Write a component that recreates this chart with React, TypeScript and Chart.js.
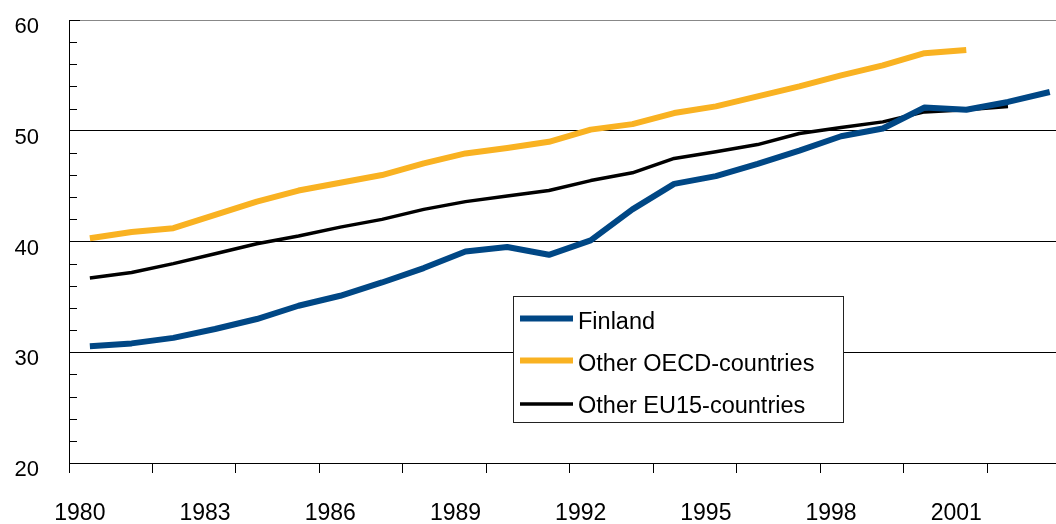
import React, { useEffect, useRef } from "react";
import { Chart, registerables } from "chart.js";

Chart.register(...registerables);

const years = [1980, 1981, 1982, 1983, 1984, 1985, 1986, 1987, 1988, 1989, 1990, 1991, 1992, 1993, 1994, 1995, 1996, 1997, 1998, 1999, 2000, 2001, 2002, 2003];
const finland = [30.55, 30.8, 31.3, 32.1, 33.0, 34.2, 35.1, 36.3, 37.6, 39.1, 39.5, 38.8, 40.1, 42.9, 45.2, 45.9, 47.0, 48.2, 49.5, 50.2, 52.1, 51.9, 52.6, 53.5];
const otherOECD = [40.3, 40.85, 41.2, 42.4, 43.6, 44.6, 45.3, 46.0, 47.05, 47.95, 48.45, 49.0, 50.1, 50.6, 51.6, 52.2, 53.1, 54.0, 55.0, 55.9, 57.0, 57.3];
const otherEU15 = [36.7, 37.2, 38.0, 38.9, 39.8, 40.5, 41.3, 42.0, 42.9, 43.6, 44.1, 44.6, 45.5, 46.2, 47.5, 48.1, 48.75, 49.75, 50.3, 50.8, 51.7, 51.9, 52.2];
const xTickLabels = [1980, 1983, 1986, 1989, 1992, 1995, 1998, 2001];
const xTickMarks = [1979.5, 1981.5, 1983.5, 1985.5, 1987.5, 1989.5, 1991.5, 1993.5, 1995.5, 1997.5, 1999.5, 2001.5];
const yTicks = [20, 30, 40, 50, 60];

const FONT = "'Liberation Sans', Arial, sans-serif";

const toPoints = (vals: number[]) => vals.map((v, i) => ({ x: years[i], y: v }));

const legendPlugin = {
  id: "boxLegend",
  afterDatasetsDraw(chart: any) {
    const ctx = chart.ctx;
    const bx = 513.5, by = 296.5, bw = 330, bh = 126;
    ctx.save();
    ctx.fillStyle = "#fff";
    ctx.fillRect(bx, by, bw, bh);
    ctx.strokeStyle = "#222";
    ctx.lineWidth = 1;
    ctx.strokeRect(bx, by, bw, bh);
    const baselines = [328.5, 371, 413];
    const lineYs = [318.5, 360.5, 404];
    chart.data.datasets.forEach((ds: any, i: number) => {
      const ly = lineYs[i];
      ctx.beginPath();
      ctx.strokeStyle = ds.borderColor;
      ctx.lineWidth = ds.borderWidth;
      ctx.lineCap = "butt";
      ctx.moveTo(520, ly);
      ctx.lineTo(573, ly);
      ctx.stroke();
      ctx.fillStyle = "#000";
      ctx.font = "23.5px " + FONT;
      ctx.textBaseline = "alphabetic";
      ctx.textAlign = "left";
      ctx.fillText(ds.label, 578, baselines[i]);
    });
    ctx.restore();
  },
};

const minorTicksPlugin = {
  id: "minorTicks",
  afterDraw(chart: any) {
    const ctx = chart.ctx;
    const y = chart.scales.y;
    const left = chart.chartArea.left;
    ctx.save();
    ctx.strokeStyle = "#000";
    ctx.lineWidth = 1;
    for (let v = 22; v < 60; v += 2) {
      if (v % 10 === 0) continue;
      const py = Math.round(y.getPixelForValue(v)) + 0.5;
      ctx.beginPath();
      ctx.moveTo(left, py);
      ctx.lineTo(left + 8, py);
      ctx.stroke();
    }
    const py60 = Math.round(y.getPixelForValue(60)) + 0.5;
    ctx.beginPath();
    ctx.moveTo(left, py60);
    ctx.lineTo(left + 11, py60);
    ctx.stroke();
    ctx.restore();
  },
};

export default function App() {
  const ref = useRef<HTMLCanvasElement>(null);
  useEffect(() => {
    document.body.style.margin = "0";
    const chart = new Chart(ref.current!, {
      type: "line",
      data: {
        datasets: [
          { label: "Finland", data: toPoints(finland), borderColor: "#004785", borderWidth: 6, pointRadius: 0, tension: 0, borderJoinStyle: "round" },
          { label: "Other OECD-countries", data: toPoints(otherOECD), borderColor: "#F9B222", borderWidth: 6, pointRadius: 0, tension: 0, borderJoinStyle: "round" },
          { label: "Other EU15-countries", data: toPoints(otherEU15), borderColor: "#000000", borderWidth: 3.5, pointRadius: 0, tension: 0, borderJoinStyle: "round" },
        ],
      },
      options: {
        animation: false,
        responsive: false,
        maintainAspectRatio: false,
        layout: { padding: { top: 20, right: 0, left: 0, bottom: 0 } },
        plugins: { legend: { display: false }, tooltip: { enabled: false } },
        scales: {
          x: {
            type: "linear",
            min: 1979.5,
            max: 2003.15,
            afterBuildTicks: (scale: any) => {
              const vals = [...xTickMarks, ...xTickLabels].sort((a, b) => a - b);
              scale.ticks = vals.map((v) => ({ value: v }));
            },
            afterFit: (scale: any) => {
              scale.height = 61;
              scale.paddingLeft = 0;
              scale.paddingRight = 0;
            },
            ticks: {
              autoSkip: false,
              maxRotation: 0,
              minRotation: 0,
              labelOffset: -10,
              padding: 27,
              color: "#000",
              font: { family: FONT, size: 23 },
              callback: (v: any) => (xTickLabels.includes(Number(v)) ? String(v) : ""),
            },
            grid: {
              drawOnChartArea: false,
              drawTicks: true,
              tickLength: 10,
              color: (c: any) => (c.tick && xTickMarks.includes(c.tick.value) ? "#000" : "rgba(0,0,0,0)"),
            },
            border: { color: "#000", width: 1 },
          },
          y: {
            type: "linear",
            min: 20,
            max: 60,
            afterBuildTicks: (scale: any) => {
              scale.ticks = yTicks.map((v) => ({ value: v }));
            },
            afterFit: (scale: any) => {
              scale.width = 69;
              scale.paddingTop = 0;
              scale.paddingBottom = 0;
            },
            ticks: {
              padding: 30,
              labelOffset: 7,
              color: "#000",
              font: { family: FONT, size: 22 },
            },
            grid: {
              drawTicks: false,
              color: (c: any) => (c.tick && c.tick.value === 60 ? "#888" : "#000"),
              lineWidth: 1,
            },
            border: { color: "#000", width: 1 },
          },
        },
      },
      plugins: [minorTicksPlugin, legendPlugin],
    } as any);
    return () => chart.destroy();
  }, []);
  return (
    <div style={{ position: "absolute", left: 0, top: 0, width: 1056, height: 524, background: "#fff" }}>
      <canvas ref={ref} width={1056} height={524} style={{ width: 1056, height: 524 }} />
    </div>
  );
}
